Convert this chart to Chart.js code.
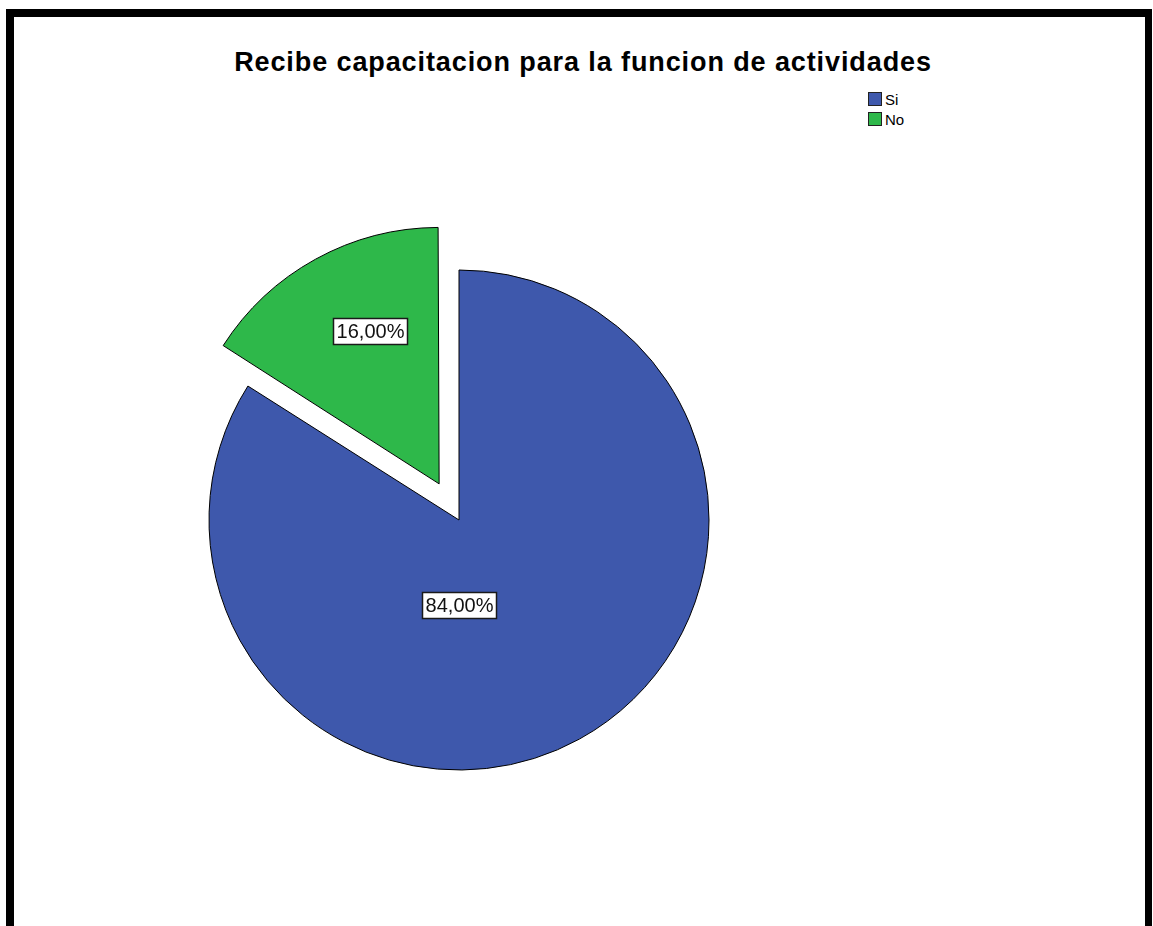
<!DOCTYPE html>
<html lang="es">
<head>
<meta charset="utf-8">
<title>Recibe capacitacion para la funcion de actividades</title>
<script src="https://cdn.jsdelivr.net/npm/chart.js@4.4.0/dist/chart.umd.min.js"></script>
<style>
  html, body { margin: 0; padding: 0; background: #fff; overflow: hidden; }
  body { width: 1153px; height: 926px; position: relative; font-family: "Liberation Sans", Arial, sans-serif; }
  /* marco negro del grafico (sin borde inferior visible) */
  .marco { position: absolute; left: 6px; top: 9px; width: 1131px; height: 1000px;
           border: 8px solid #000; border-right-width: 7px; border-bottom: none; }
  .titulo { position: absolute; left: 0; top: 49px; width: 1166px; text-align: center;
            font-weight: bold; font-size: 27px; line-height: 27px; letter-spacing: 0.9px; color: #000; }
  .leyenda { position: absolute; left: 868px; top: 89px; font-size: 15px; color: #000; }
  .leyenda .item { display: flex; align-items: center; height: 20px; }
  .leyenda .caja { width: 12px; height: 12px; border: 1px solid #222; margin-right: 3px; }
  .torta { position: absolute; left: 109px; top: 170px; width: 700px; height: 700px; }
</style>
</head>
<body>
<div class="marco"></div>
<div class="titulo">Recibe capacitacion para la funcion de actividades</div>
<div class="leyenda" id="leyenda"></div>
<div class="torta"><canvas id="grafico"></canvas></div>

<script>
// Datos
const categorias = ['Si', 'No'];
const porcentajes = [84, 16];
const colores = ['#3e58ac', '#2eb84a'];
const desplazamientos = [0, 165];
// Ubicacion de las etiquetas: angulo (grados) y distancia relativa al radio
const ubicaciones = [{ angulo: 90, dist: 0.34 }, { angulo: 245.8, dist: 0.644 }];

function formatoPorcentaje(v) {
  return v.toFixed(2).replace('.', ',') + '%';
}

// Etiquetas con recuadro blanco sobre cada porcion
const etiquetasPlugin = {
  id: 'etiquetas',
  afterDatasetsDraw(chart) {
    const ctx = chart.ctx;
    const meta = chart.getDatasetMeta(0);
    const valores = chart.data.datasets[0].data;
    ctx.save();
    ctx.font = '20px "Liberation Sans", Arial, sans-serif';
    ctx.textAlign = 'center';
    ctx.textBaseline = 'middle';
    meta.data.forEach((arc, i) => {
      const p = arc.getProps(['x', 'y', 'startAngle', 'endAngle', 'outerRadius', 'circumference'], true);
      // mismo desplazamiento que aplica ArcElement al separar la porcion
      const off = (arc.options.offset || 0) / 4;
      const fix = 1 - Math.sin(Math.min(Math.PI, p.circumference));
      const medio = (p.startAngle + p.endAngle) / 2;
      const cx = p.x + Math.cos(medio) * off * (1 + fix);
      const cy = p.y + Math.sin(medio) * off * (1 + fix);
      const u = ubicaciones[i];
      const a = u.angulo * Math.PI / 180;
      const x = cx + Math.cos(a) * u.dist * p.outerRadius;
      const y = cy + Math.sin(a) * u.dist * p.outerRadius;
      const texto = formatoPorcentaje(valores[i]);
      const w = Math.round(ctx.measureText(texto).width + 6);
      const h = 26;
      const bx = Math.round(x - w / 2) + 0.5;
      const by = Math.round(y - h / 2) + 0.5;
      ctx.fillStyle = '#fff';
      ctx.fillRect(bx, by, w, h);
      ctx.strokeStyle = '#1a1a1a';
      ctx.lineWidth = 1.5;
      ctx.strokeRect(bx, by, w, h);
      ctx.fillStyle = '#111';
      ctx.fillText(texto, bx + w / 2, by + h / 2 + 1);
    });
    ctx.restore();
  }
};

const chart = new Chart(document.getElementById('grafico'), {
  type: 'pie',
  data: {
    labels: categorias,
    datasets: [{
      data: porcentajes,
      backgroundColor: colores,
      borderColor: '#000',
      borderWidth: 1,
      offset: desplazamientos,
      radius: 250
    }]
  },
  options: {
    responsive: true,
    maintainAspectRatio: false,
    animation: false,
    layout: { padding: 0 },
    plugins: {
      legend: { display: false },
      title: { display: false },
      tooltip: { enabled: false }
    }
  },
  plugins: [etiquetasPlugin]
});

// Leyenda armada con los datos del grafico
const leyenda = document.getElementById('leyenda');
chart.data.labels.forEach((etiqueta, i) => {
  const item = document.createElement('div');
  item.className = 'item';
  const caja = document.createElement('span');
  caja.className = 'caja';
  caja.style.background = chart.data.datasets[0].backgroundColor[i];
  const texto = document.createElement('span');
  texto.textContent = etiqueta;
  item.appendChild(caja);
  item.appendChild(texto);
  leyenda.appendChild(item);
});
</script>
</body>
</html>
